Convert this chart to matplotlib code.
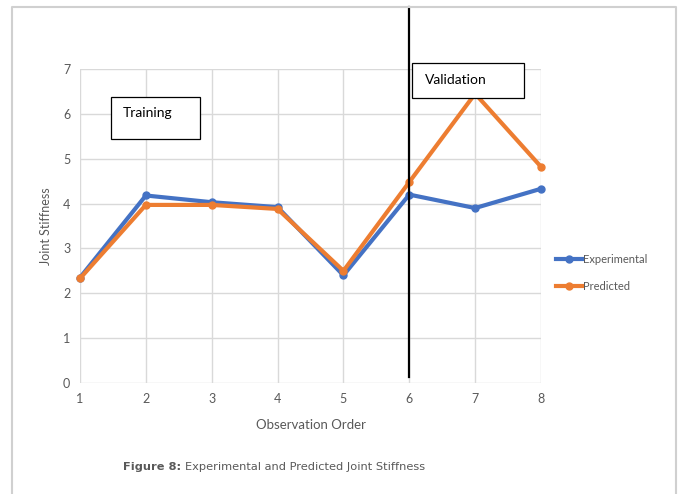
import matplotlib.pyplot as plt
from matplotlib.patches import Rectangle

order = [1, 2, 3, 4, 5, 6, 7, 8]
experimental = [2.35, 4.18, 4.03, 3.92, 2.40, 4.20, 3.90, 4.33]
predicted = [2.33, 3.97, 3.97, 3.88, 2.50, 4.48, 6.45, 4.82]
split_at = 6

plt.rcParams['font.family'] = ['Lato', 'DejaVu Sans']

fig = plt.figure(figsize=(6.8, 4.94), dpi=100)
ax = fig.add_axes([80 / 680, 1 - 383 / 494, 461 / 680, 314 / 494])

grid_c = '#d9d9d9'
text_c = '#595959'

ax.plot(order, experimental, color='#4472C4', lw=3, marker='o', ms=5,
        label='Experimental', zorder=3, clip_on=False)
ax.plot(order, predicted, color='#ED7D31', lw=3, marker='o', ms=5,
        label='Predicted', zorder=4, clip_on=False)

ax.set_xlim(1, 8)
ax.set_ylim(0, 7)
ax.set_xticks(order)
ax.set_yticks(range(8))
ax.grid(True, color=grid_c, lw=1)
ax.set_axisbelow(True)
for s in ax.spines.values():
    s.set_visible(False)
ax.tick_params(length=0, labelsize=9, colors=text_c, pad=7)
ax.set_xlabel('Observation Order', fontsize=9.5, color=text_c, labelpad=10)
ax.set_ylabel('Joint Stiffness', fontsize=9, color=text_c, labelpad=8)

# training / validation split
ax.plot([split_at, split_at], [0.13, 8.38], color='black', lw=1.6,
        clip_on=False, zorder=5)

ax.add_patch(Rectangle((1.47, 5.44), 1.35, 0.94, fc='white', ec='black',
                       lw=0.9, zorder=6, clip_on=False))
ax.text(1.65, 6.03, 'Training', fontsize=10, va='center', zorder=7)
ax.add_patch(Rectangle((6.04, 6.35), 1.70, 0.78, fc='white', ec='black',
                       lw=0.9, zorder=6, clip_on=False))
ax.text(6.24, 6.76, 'Validation', fontsize=10, va='center', zorder=7)

leg = ax.legend(loc='center left', bbox_to_anchor=(546 / 680, 1 - 273 / 494),
                bbox_transform=fig.transFigure, frameon=False, fontsize=8,
                handlelength=2.3, handletextpad=0.1, labelspacing=1.5,
                labelcolor=text_c)

# outer frame
fig.add_artist(plt.Line2D([12 / 680, 12 / 680, 676 / 680, 676 / 680],
                          [0, 1 - 7 / 494, 1 - 7 / 494, 0],
                          color='#d0d0d0', lw=1.5))

cap = fig.text(123 / 680, 1 - 470 / 494, 'Figure 8:', fontsize=8.2,
               family='DejaVu Sans', fontweight='bold', color=text_c,
               va='baseline')
fig.add_artist(plt.Annotation(
    'Experimental and Predicted Joint Stiffness', xy=(1, 0),
    xycoords=cap, xytext=(2.5, 0), textcoords='offset points',
    fontsize=8.2, family='DejaVu Sans', color=text_c, va='bottom'))

fig.savefig('out.png', dpi=100)
